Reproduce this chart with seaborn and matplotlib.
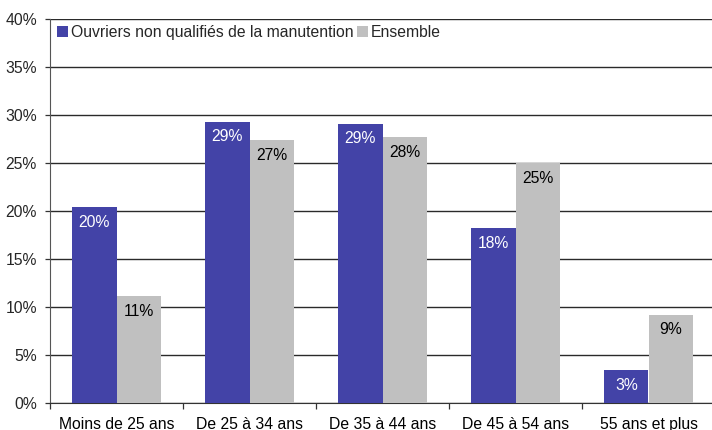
import matplotlib
matplotlib.use("Agg")
import matplotlib.pyplot as plt
from matplotlib.ticker import FixedLocator, MultipleLocator, FuncFormatter
import pandas as pd
import seaborn as sns

categories = ["Moins de 25 ans", "De 25 à 34 ans", "De 35 à 44 ans",
              "De 45 à 54 ans", "55 ans et plus"]
series = ["Ouvriers non qualifiés de la manutention", "Ensemble"]
ouvriers = [20.4, 29.3, 29.1, 18.2, 3.4]
ensemble = [11.1, 27.4, 27.7, 25.0, 9.2]

df = pd.DataFrame({
    "age": categories * 2,
    "serie": [series[0]] * len(categories) + [series[1]] * len(categories),
    "pct": ouvriers + ensemble,
})

sns.set_style("white")
plt.rcParams["font.family"] = ["Liberation Sans", "DejaVu Sans"]
fs = 11.3
plt.rcParams["font.size"] = fs

colors = ["#4343A7", "#C0C0C0"]

fig = plt.figure(figsize=(7.12, 4.30), dpi=100)
ax = fig.add_axes([50 / 712, 27 / 430, 665 / 712, 384 / 430])

sns.barplot(data=df, x="age", y="pct", hue="serie", hue_order=series,
            palette=colors, width=0.67, gap=0, saturation=1,
            linewidth=0, ax=ax, zorder=3)

ax.set_ylim(0, 40)
ax.set_xlim(-0.5, len(categories) - 0.5)
ax.yaxis.set_major_locator(MultipleLocator(5))
ax.yaxis.set_major_formatter(FuncFormatter(lambda v, p: "%d%%" % v))
ax.grid(axis="y", color="#2a2a2a", linewidth=1.0, zorder=0)
ax.set_axisbelow(True)
ax.set_xlabel("")
ax.set_ylabel("")

for s in ["top", "right"]:
    ax.spines[s].set_visible(False)
ax.spines["left"].set_color("#555555")
ax.spines["bottom"].set_color("#333333")

# labels centred on the groups, tick marks between groups
ax.tick_params(axis="x", which="major", length=0, pad=10, labelsize=fs,
               colors="black")
ax.xaxis.set_minor_locator(FixedLocator([i - 0.5 for i in range(len(categories) + 1)]))
ax.tick_params(axis="x", which="minor", length=4, width=0.9, color="#333333",
               direction="out", bottom=True)
ax.tick_params(axis="y", length=3.5, width=0.9, color="#333333", pad=6,
               labelsize=fs, left=True, direction="out")

for cont, tcol in zip(ax.containers, ["white", "black"]):
    for bar in cont:
        h = bar.get_height()
        ax.annotate("%.0f%%" % h, (bar.get_x() + bar.get_width() / 2, h),
                    xytext=(0, -5.5), textcoords="offset points",
                    ha="center", va="top", color=tcol, fontsize=fs, zorder=4)

ax.legend(loc="upper left", bbox_to_anchor=(-0.005, 1.011), ncol=2,
          frameon=False, handlelength=0.7, handleheight=0.7,
          handletextpad=0.2, columnspacing=0.2, borderaxespad=0.25,
          fontsize=fs)

fig.savefig("out.png", dpi=100)
